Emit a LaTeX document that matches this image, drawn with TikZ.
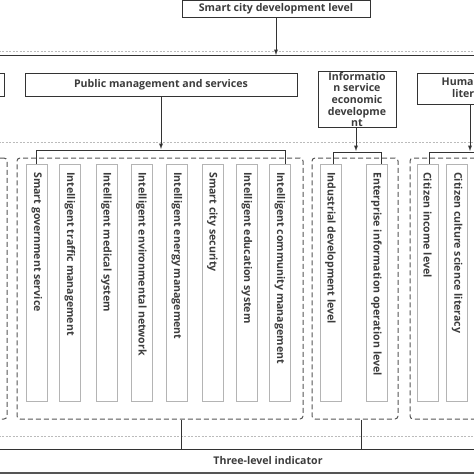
\documentclass[tikz,border=0pt]{standalone}
\usepackage{fontspec}
\setmainfont{Open Sans}
\usetikzlibrary{positioning}
\definecolor{inkC}{HTML}{333333}
\definecolor{txtC}{HTML}{3C3C3C}
\definecolor{cellC}{HTML}{B4B4B4}
\definecolor{grpC}{HTML}{555555}
\definecolor{divC}{HTML}{BBBBBB}

\begin{document}
\begin{tikzpicture}[
  x=1pt, y=-1pt,
  font=\bfseries\fontsize{10.6}{12}\selectfont, text=txtC,
  headbox/.style={draw=inkC, line width=0.9pt, fill=white, inner sep=1pt},
  cell/.style={draw=cellC, line width=0.7pt, minimum width=21pt, minimum height=237pt, inner sep=0pt, anchor=north},
  celltext/.style={rotate=-90, anchor=west, inner sep=0pt},
  group/.style={draw=grpC, line width=1pt, dash pattern=on 5pt off 3pt, rounded corners=3pt, inner sep=0pt},
  divider/.style={divC, line width=0.5pt, dash pattern=on 2pt off 1.5pt},
  axline/.style={inkC, line width=0.8pt},
  link/.style={-latex, inkC, line width=0.9pt},
  brace/.style={inkC, line width=0.9pt},
]
\useasboundingbox (0,0) rectangle (474,474);
\clip (0,0) rectangle (474,474);

% ---------- level 1 ----------
\node[headbox, minimum width=188pt, minimum height=17pt] (top) at (276,8.5) {Smart city development level};

\draw[divider] (-5,51) -- (480,51);
\draw[axline] (-5,55) -- (480,55);
\coordinate (topend) at (276,55);
\draw[link] (top) -- (topend);

% ---------- level 2 ----------
\node[headbox, minimum width=60pt, minimum height=23pt] (lefthead) at (-26,84.5) {};
\node[headbox, minimum width=272pt, minimum height=23pt] (pub) at (161,84.5) {Public management and services};
\node[headbox, minimum width=78pt, minimum height=53pt, align=center,
      font=\bfseries\fontsize{10.6}{11.6}\selectfont] (info) at (357,99.5)
      {Informatio\\n service\\economic\\developme\\nt};
\node[headbox, minimum width=110pt, minimum height=31pt, align=center,
      font=\bfseries\fontsize{10.6}{11.6}\selectfont] (human) at (472,88.5)
      {Humanistic\\literacy};

\draw[divider] (-5,142) -- (480,142);

% ---------- level 3 : groups ----------
\node[group, minimum width=67pt, minimum height=261pt] (leftgrp) at (-26.5,288.5) {};
\node[group, minimum width=286pt, minimum height=261pt] (pubgrp) at (160,288.5) {};
\node[group, minimum width=86pt, minimum height=261pt] (infogrp) at (355,288.5) {};
\node[group, minimum width=100pt, minimum height=261pt] (humgrp) at (460,288.5) {};

% public management cells
\node[cell] (sgov) at (37,164) {};
\node[cell] (itra) at (70,164) {};
\node[cell] (imed) at (106.5,164) {};
\node[cell] (ienv) at (141.5,164) {};
\node[cell] (iene) at (177,164) {};
\node[cell] (ssec) at (212.5,164) {};
\node[cell] (iedu) at (247,164) {};
\node[cell] (icom) at (280,164) {};
% information service cells
\node[cell] (indl) at (330.5,164) {};
\node[cell] (entl) at (376.5,164) {};
% humanistic cells
\node[cell] (cinc) at (427.5,164) {};
\node[cell] (ccul) at (457,164) {};

\node[celltext] at ([yshift=-8pt]sgov.north) {Smart government service};
\node[celltext] at ([yshift=-8pt]itra.north) {Intelligent traffic management};
\node[celltext] at ([yshift=-8pt]imed.north) {Intelligent medical system};
\node[celltext] at ([yshift=-8pt]ienv.north) {Intelligent environmental network};
\node[celltext] at ([yshift=-8pt]iene.north) {Intelligent energy management};
\node[celltext] at ([yshift=-8pt]ssec.north) {Smart city security};
\node[celltext] at ([yshift=-8pt]iedu.north) {Intelligent education system};
\node[celltext] at ([yshift=-8pt]icom.north) {Intelligent community management};
\node[celltext] at ([yshift=-8pt]indl.north) {Industrial development level};
\node[celltext] at ([yshift=-8pt]entl.north) {Enterprise information operation level};
\node[celltext] at ([yshift=-8pt]cinc.north) {Citizen income level};
\node[celltext] at ([yshift=-8pt]ccul.north) {Citizen culture science literacy};

% brackets over the cells
\draw[brace] ([xshift=-1pt]sgov.north) -- ++(0,-14) -| ([xshift=5pt]icom.north);
\draw[brace] ([xshift=2.5pt]indl.north) -- ++(0,-12) -| ([xshift=4.5pt]entl.north);
\draw[brace] ([xshift=1.5pt]cinc.north) -- ++(0,-12) -- ++(60,0);

% arrows from level 2
\coordinate (pubend) at (161,149);
\coordinate (infoend) at (356,151);
\coordinate (humend) at (470,151);
\draw[link] (pub.south -| pubend) -- (pubend);
\draw[link] (info.south -| infoend) -- (infoend);
\draw[link] (human.south -| humend) -- (humend);

% ---------- bottom band ----------
\draw[divider] (-5,436) -- (480,436);
\draw[axline] (-5,449) -- (480,449);
\coordinate (pubfoot) at (181,449);
\coordinate (infofoot) at (361,449);
\draw[brace] (pubgrp.south -| pubfoot) -- (pubfoot);
\draw[brace] (infogrp.south -| infofoot) -- (infofoot);
\node (tri) at (268,461) {Three-level indicator};
\draw[grpC, line width=2.5pt] (-5,473.5) -- (480,473.5);

\end{tikzpicture}
\end{document}
